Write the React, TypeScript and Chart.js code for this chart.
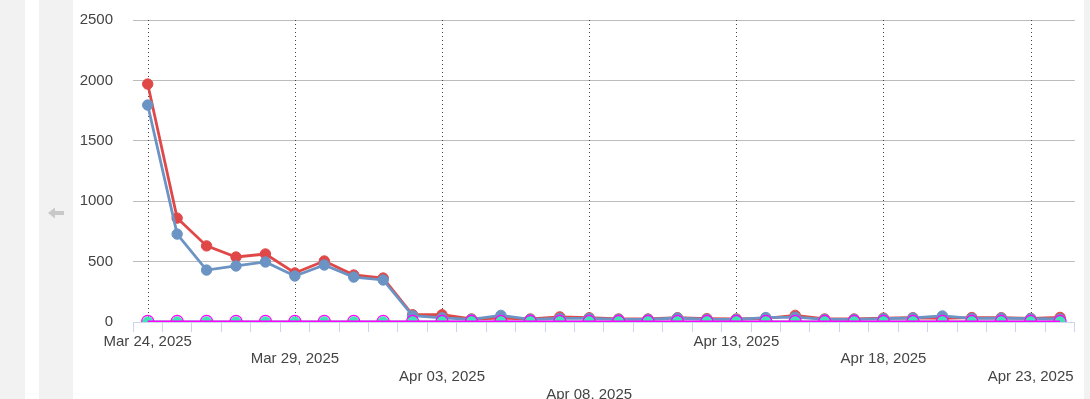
import React, { useEffect, useRef } from "react";
import { Chart, registerables } from "chart.js";

Chart.register(...registerables);

const categories = [
  "Mar 24, 2025", "Mar 25, 2025", "Mar 26, 2025", "Mar 27, 2025", "Mar 28, 2025",
  "Mar 29, 2025", "Mar 30, 2025", "Mar 31, 2025", "Apr 01, 2025", "Apr 02, 2025",
  "Apr 03, 2025", "Apr 04, 2025", "Apr 05, 2025", "Apr 06, 2025", "Apr 07, 2025",
  "Apr 08, 2025", "Apr 09, 2025", "Apr 10, 2025", "Apr 11, 2025", "Apr 12, 2025",
  "Apr 13, 2025", "Apr 14, 2025", "Apr 15, 2025", "Apr 16, 2025", "Apr 17, 2025",
  "Apr 18, 2025", "Apr 19, 2025", "Apr 20, 2025", "Apr 21, 2025", "Apr 22, 2025",
  "Apr 23, 2025", "Apr 24, 2025",
];

// labels shown on the x axis (every 5th day), staggered over 4 rows
const shownLabels = [
  "Mar 24, 2025", "Mar 29, 2025", "Apr 03, 2025", "Apr 08, 2025",
  "Apr 13, 2025", "Apr 18, 2025", "Apr 23, 2025",
];
const labelRows = 4;

// dotted vertical plot lines
const plotLineCategories = [
  "Mar 24, 2025", "Mar 29, 2025", "Apr 03, 2025", "Apr 08, 2025",
  "Apr 13, 2025", "Apr 18, 2025", "Apr 23, 2025",
];

const yTicks = [0, 500, 1000, 1500, 2000, 2500];
const yTickLabels = ["0", "500", "1000", "1500", "2000", "2500"];

const redValues = [
  1970, 860, 630, 538, 563, 406, 505, 389, 364, 60,
  60, 25, 32, 25, 42, 35, 25, 25, 35, 28,
  25, 30, 55, 25, 25, 32, 35, 30, 37, 35,
  30, 38,
];
const blueValues = [
  1796, 728, 430, 464, 497, 381, 472, 372, 348, 52,
  35, 22, 55, 22, 30, 30, 22, 22, 33, 22,
  22, 37, 40, 22, 22, 28, 33, 50, 30, 32,
  28, 25,
];
const magentaValues = [
  5, 5, 5, 5, 5, 5, 5, 5, 5, 5,
  5, 5, 5, 5, 5, 5, 5, 5, 5, 5,
  5, 5, 5, 5, 5, 5, 5, 5, 5, 5,
  5, 5,
];
const greenValues = [
  0, 0, 0, 0, 0, 0, 0, 0, 0, 0,
  0, 0, 0, 0, 0, 0, 0, 0, 0, 0,
  0, 0, 0, 0, 0, 0, 0, 0, 0, 0,
  0, 0,
];

const RED = "#e04848";
const BLUE = "#6b93c4";
const MAGENTA = "#ff00ff";
const GREEN = "#3ee6b4";

const dottedLinesPlugin = {
  id: "dottedLines",
  beforeDatasetsDraw(chart: any) {
    const { ctx, chartArea, scales } = chart;
    const x = scales.x;
    ctx.save();
    ctx.strokeStyle = "#444";
    ctx.lineWidth = 1;
    ctx.setLineDash([1, 3]);
    plotLineCategories.forEach((c) => {
      const idx = categories.indexOf(c);
      if (idx < 0) return;
      const px = Math.round(x.getPixelForValue(idx)) + 0.5;
      ctx.beginPath();
      ctx.moveTo(px, chartArea.top);
      ctx.lineTo(px, chartArea.bottom);
      ctx.stroke();
    });
    ctx.restore();
  },
};

function ChartView() {
  const ref = useRef<HTMLCanvasElement | null>(null);
  useEffect(() => {
    if (!ref.current) return;
    const clip = { left: false, top: false, right: false, bottom: 0 } as any;
    const common = {
      borderWidth: 2.8,
      pointRadius: 5.2,
      pointBorderWidth: 1,
      pointHoverRadius: 5.2,
      tension: 0,
      clip,
    };
    const chart = new Chart(ref.current, {
      type: "line",
      data: {
        labels: categories,
        datasets: [
          {
            label: "Magenta",
            data: magentaValues,
            borderColor: MAGENTA,
            backgroundColor: "rgba(0,0,0,0)",
            ...common,
            borderWidth: 2,
            pointRadius: 6,
            pointBorderColor: MAGENTA,
            pointBackgroundColor: "rgba(0,0,0,0)",
            pointBorderWidth: 1.2,
          },
          {
            label: "Green",
            data: greenValues,
            borderColor: GREEN,
            backgroundColor: GREEN,
            pointBackgroundColor: GREEN,
            pointBorderColor: GREEN,
            ...common,
          },
          {
            label: "Blue",
            data: blueValues,
            borderColor: BLUE,
            backgroundColor: BLUE,
            pointBackgroundColor: BLUE,
            pointBorderColor: BLUE,
            ...common,
          },
          {
            label: "Red",
            data: redValues,
            borderColor: RED,
            backgroundColor: RED,
            pointBackgroundColor: RED,
            pointBorderColor: RED,
            ...common,
          },
        ],
      },
      options: {
        animation: false,
        responsive: false,
        maintainAspectRatio: false,
        layout: { padding: { top: 20, right: 5, bottom: 0, left: 0 } },
        plugins: {
          legend: { display: false },
          tooltip: { enabled: false },
        },
        scales: {
          x: {
            type: "category",
            offset: true,
            z: 1,
            grid: {
              offset: true,
              drawOnChartArea: false,
              drawTicks: true,
              tickLength: 10,
              color: "#ccd6eb",
              lineWidth: 1,
            },
            border: { display: true, color: "#ccd6eb", width: 1 },
            ticks: {
              autoSkip: false,
              maxRotation: 0,
              minRotation: 0,
              padding: 1,
              color: "#444",
              font: { size: 15, lineHeight: 1.17 },
              callback: (_v: any, index: number) => {
                const lbl = categories[index];
                const pos = shownLabels.indexOf(lbl);
                if (pos < 0) return "";
                const row = pos % labelRows;
                const lines: string[] = [];
                for (let i = 0; i < row; i++) lines.push("");
                lines.push(lbl);
                return lines;
              },
            },
            afterFit: (scale: any) => {
              scale.height = 77;
            },
          },
          y: {
            min: 0,
            max: 2500,
            afterBuildTicks: (scale: any) => {
              scale.ticks = yTicks.map((v) => ({ value: v }));
            },
            grid: {
              drawTicks: true,
              tickLength: 18,
              tickColor: "rgba(0,0,0,0)",
              color: "#bcbcbc",
              lineWidth: 1,
            },
            border: { display: false },
            ticks: {
              padding: 2,
              color: "#444",
              font: { size: 15 },
              callback: (v: any) => {
                const i = yTicks.indexOf(Number(v));
                return i >= 0 ? yTickLabels[i] : String(v);
              },
            },
            afterFit: (scale: any) => {
              scale.width = 60;
            },
          },
        },
      },
      plugins: [dottedLinesPlugin],
    } as any);
    return () => chart.destroy();
  }, []);
  return (
    <canvas
      ref={ref}
      width={1009}
      height={399}
      style={{ position: "absolute", left: 73, top: 0, width: 1009, height: 399 }}
    />
  );
}

export default function App() {
  Chart.defaults.font.family = '"Liberation Sans", Arial, Helvetica, sans-serif';
  return (
    <div
      style={{
        position: "fixed",
        left: 0,
        top: 0,
        width: 1090,
        height: 399,
        background: "#ffffff",
        overflow: "hidden",
      }}
    >
      <div style={{ position: "absolute", left: 0, top: 0, width: 25, height: 399, background: "#f2f2f2" }} />
      <div style={{ position: "absolute", left: 39, top: 0, width: 34, height: 399, background: "#f2f2f2" }} />
      <div style={{ position: "absolute", left: 1084, top: 0, width: 6, height: 399, background: "#f2f2f2" }} />
      <svg
        width={20}
        height={14}
        style={{ position: "absolute", left: 47, top: 206 }}
        viewBox="0 0 20 14"
      >
        <polygon points="1,7 8,1.5 8,12.5" fill="#c8c8c8" />
        <rect x={8} y={5} width={9} height={4} fill="#c8c8c8" />
      </svg>
      <ChartView />
    </div>
  );
}
